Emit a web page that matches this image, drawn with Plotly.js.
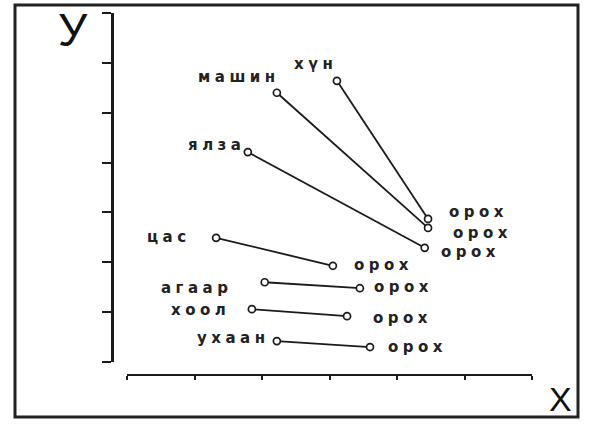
<!DOCTYPE html>
<html>
<head>
<meta charset="utf-8">
<script src="https://cdn.plot.ly/plotly-3.0.1.min.js"></script>
<style>
html, body { margin: 0; padding: 0; background: #ffffff; }
#chart { width: 595px; height: 434px; }
.annotation-text { letter-spacing: 4.5px; }
</style>
</head>
<body>
<div id="chart"></div>
<script>
// ---- data ----
var categories = ["хүн", "машин", "ялза", "цас", "агаар", "хоол", "ухаан"];
var startX = [3.11, 2.22, 1.79, 1.32, 2.04, 1.85, 2.22];
var startY = [5.64, 5.40, 4.21, 2.49, 1.60, 1.06, 0.42];
var endX   = [4.46, 4.46, 4.41, 3.05, 3.45, 3.26, 3.60];
var endY   = [2.87, 2.69, 2.29, 1.93, 1.48, 0.92, 0.30];
var endLabels = ["орох", "орох", "орох", "орох", "орох", "орох", "орох"];
var xAxisLabel = "Х";
var yAxisLabel = "У";
var xTicks = [0, 1, 2, 3, 4, 5, 6];
var yTicks = [0, 1, 2, 3, 4, 5, 6, 7];

// ---- label placement (pixel offsets, style only) ----
var startShift = [[2.5, 17], [5.5, 16], [-0.5, 7], [-23.5, 1], [-30.5, -6], [-19.5, -1], [-4.5, 3]];
var endShift   = [[19, 7], [23, -5], [14, -4], [19, 1], [12, 1], [24, -2], [16, 0]];

var lineColor = "#1a1a1a";
var textColor = "#222222";
var labelFont = { family: "DejaVu Sans", size: 15, color: textColor, weight: "bold" };

var traces = categories.map(function (c, i) {
  return {
    type: "scatter",
    mode: "lines+markers",
    name: c,
    x: [startX[i], endX[i]],
    y: [startY[i], endY[i]],
    line: { color: lineColor, width: 1.8 },
    marker: { symbol: "circle", size: 7, color: "#ffffff", line: { color: lineColor, width: 1.7 } },
    hoverinfo: "skip",
    showlegend: false
  };
});

var annotations = [];
categories.forEach(function (c, i) {
  annotations.push({
    x: startX[i], y: startY[i], xref: "x", yref: "y",
    text: c, showarrow: false, xanchor: "right", yanchor: "middle",
    xshift: startShift[i][0], yshift: startShift[i][1],
    font: labelFont
  });
  annotations.push({
    x: endX[i], y: endY[i], xref: "x", yref: "y",
    text: endLabels[i], showarrow: false, xanchor: "left", yanchor: "middle",
    xshift: endShift[i][0], yshift: endShift[i][1],
    font: labelFont
  });
});
annotations.push({
  x: 0.1265, y: 0.931, xref: "paper", yref: "paper", text: yAxisLabel,
  showarrow: false, xanchor: "center", yanchor: "middle",
  font: { family: "Liberation Sans", size: 46, color: "#111111" }
});
annotations.push({
  x: 0.945, y: 0.0806, xref: "paper", yref: "paper", text: xAxisLabel,
  showarrow: false, xanchor: "center", yanchor: "middle",
  font: { family: "Liberation Sans", size: 34, color: "#111111" }
});

var layout = {
  width: 595, height: 434,
  margin: { l: 0, r: 0, t: 0, b: 0, pad: 0 },
  paper_bgcolor: "#ffffff",
  plot_bgcolor: "rgba(0,0,0,0)",
  showlegend: false,
  xaxis: {
    domain: [127 / 595, 532 / 595],
    range: [xTicks[0], xTicks[xTicks.length - 1]],
    tickvals: xTicks,
    showticklabels: false,
    showgrid: false, zeroline: false,
    showline: true, linecolor: lineColor, linewidth: 2,
    ticks: "outside", ticklen: 4, tickwidth: 2, tickcolor: lineColor,
    anchor: "free", position: 1 - 375 / 434,
    fixedrange: true
  },
  yaxis: {
    domain: [1 - 362 / 434, 1 - 13 / 434],
    range: [yTicks[0], yTicks[yTicks.length - 1]],
    tickvals: yTicks,
    showticklabels: false,
    showgrid: false, zeroline: false,
    showline: true, linecolor: lineColor, linewidth: 3,
    ticks: "outside", ticklen: 9, tickwidth: 2, tickcolor: lineColor,
    anchor: "free", position: 112 / 595,
    fixedrange: true
  },
  shapes: [{
    type: "rect", xref: "paper", yref: "paper",
    x0: 15 / 595, x1: 578 / 595, y0: 1 - 417 / 434, y1: 1 - 5 / 434,
    line: { color: "#222222", width: 3 }, fillcolor: "rgba(0,0,0,0)", layer: "below"
  }],
  annotations: annotations
};

Plotly.newPlot("chart", traces, layout, { staticPlot: true, displayModeBar: false });
</script>
</body>
</html>
